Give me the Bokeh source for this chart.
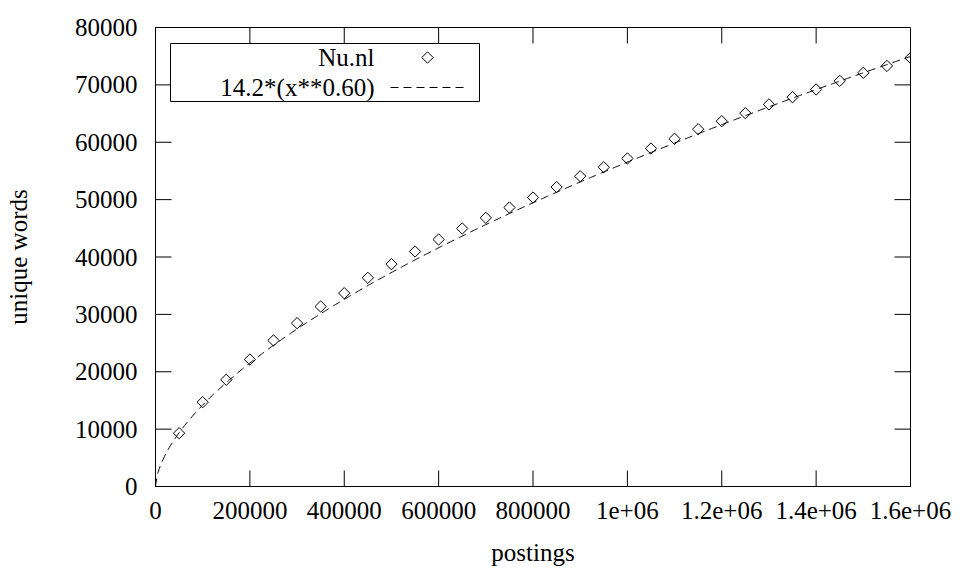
import math
import numpy as np
from bokeh.plotting import figure
from bokeh.models import (FixedTicker, Range1d, Label, BoxAnnotation,
                          PolyAnnotation, Arrow, ColumnDataSource)
from bokeh.embed import file_html
from bokeh.resources import INLINE

# ---------------- data ----------------
series_name = "Nu.nl"
postings = [50000, 100000, 150000, 200000, 250000, 300000, 350000, 400000,
            450000, 500000, 550000, 600000, 650000, 700000, 750000, 800000,
            850000, 900000, 950000, 1000000, 1050000, 1100000, 1150000, 1200000,
            1250000, 1300000, 1350000, 1400000, 1450000, 1500000, 1550000, 1600000]
unique_words = [9290, 14700, 18600, 22130, 25450, 28470, 31370, 33700,
                36370, 38750, 40960, 43050, 44970, 46830, 48630, 50370,
                52200, 54080, 55650, 57170, 58910, 60600, 62280, 63670,
                65070, 66600, 67850, 69200, 70700, 72100, 73300, 74700]
fit_a = 14.2
fit_b = 0.60
fit_label = "14.2*(x**0.60)"

x_ticks = [0, 200000, 400000, 600000, 800000, 1000000, 1200000, 1400000, 1600000]
x_tick_labels = ["0", "200000", "400000", "600000", "800000", "1e+06",
                 "1.2e+06", "1.4e+06", "1.6e+06"]
y_ticks = [0, 10000, 20000, 30000, 40000, 50000, 60000, 70000, 80000]
y_tick_labels = ["0", "10000", "20000", "30000", "40000", "50000", "60000",
                 "70000", "80000"]
x_label = "postings"
y_label = "unique words"
x_min, x_max = 0, 1600000
y_min, y_max = 0, 80000

# ---------------- layout / style ----------------
FONT = "Liberation Serif"
FS = "25px"
TICK_LEN = 16
W, H = 960, 568
BL, BR, BT, BB = 155, 50, 27, 82
FRAME_W = W - BL - BR
FRAME_H = H - BT - BB

p = figure(width=W, height=H, output_backend="svg", toolbar_location=None,
           x_range=Range1d(x_min, x_max), y_range=Range1d(y_min, y_max),
           min_border_left=BL, min_border_right=BR, min_border_top=BT,
           min_border_bottom=BB, x_axis_label=x_label, y_axis_label=y_label)
p.grid.visible = False
p.outline_line_color = "black"
p.outline_line_width = 1
p.background_fill_color = "white"
p.border_fill_color = "white"


def style_axis(ax, ticks, labels):
    ax.ticker = FixedTicker(ticks=ticks)
    ax.major_label_overrides = {t: l for t, l in zip(ticks, labels)}
    ax.major_tick_in = 0
    ax.major_tick_out = 0
    ax.minor_tick_line_color = None
    ax.axis_line_color = "black"
    ax.major_label_text_font = FONT
    ax.major_label_text_color = "black"
    ax.major_label_text_font_size = FS
    ax.axis_label_text_font = FONT
    ax.axis_label_text_font_size = FS
    ax.axis_label_text_font_style = "normal"
    ax.axis_label_text_color = "black"


style_axis(p.xaxis[0], x_ticks, x_tick_labels)
p.xaxis[0].major_label_standoff = 15
p.xaxis[0].axis_label_standoff = 17
style_axis(p.yaxis[0], y_ticks, y_tick_labels)
p.yaxis[0].major_label_standoff = 18
p.yaxis[0].axis_label_standoff = 40

# inward, mirrored ticks (gnuplot style) as unclipped screen-space annotations;
# tick positions are mapped from the tick lists onto the plot frame
def sx(v):
    return (v - x_min) / (x_max - x_min) * FRAME_W


def sy(v):
    return (v - y_min) / (y_max - y_min) * FRAME_H


x0s, y0s, x1s, y1s = [], [], [], []
for t in y_ticks:
    x0s += [0, FRAME_W]
    x1s += [TICK_LEN, FRAME_W - TICK_LEN]
    y0s += [sy(t), sy(t)]
    y1s += [sy(t), sy(t)]
for t in x_ticks:
    x0s += [sx(t), sx(t)]
    x1s += [sx(t), sx(t)]
    y0s += [0, FRAME_H]
    y1s += [TICK_LEN, FRAME_H - TICK_LEN]
tick_src = ColumnDataSource(dict(x0=x0s, y0=y0s, x1=x1s, y1=y1s))
p.add_layout(Arrow(end=None, source=tick_src, x_start="x0", y_start="y0",
                   x_end="x1", y_end="y1", start_units="screen", end_units="screen",
                   line_color="black", line_width=1))

# ---------------- glyphs ----------------
x_fit = np.linspace(x_min, x_max, 600)
y_fit = fit_a * x_fit ** fit_b
p.line(x_fit, y_fit, line_color="black", line_width=1, line_dash="8 5")
p.scatter(postings, unique_words, marker="square", angle=math.pi / 4, size=8,
          fill_color=None, line_color="black", line_width=1)

# ---------------- legend (gnuplot style: text then sample) ----------------
lg_left, lg_right, lg_top, lg_bottom = 15, 324, 443, 385
p.add_layout(BoxAnnotation(left=lg_left, right=lg_right, top=lg_top, bottom=lg_bottom,
                           left_units="screen", right_units="screen",
                           top_units="screen", bottom_units="screen",
                           fill_color="white", fill_alpha=1.0,
                           line_color="black", line_width=1, line_alpha=1.0))
row1_y, row2_y = 429, 399
text_right = 219
sample_x = 272
p.add_layout(Label(x=text_right, y=row1_y, x_units="screen", y_units="screen",
                   text=series_name, text_align="right", text_baseline="middle",
                   text_font=FONT, text_font_size=FS, text_color="black"))
p.add_layout(Label(x=text_right, y=row2_y, x_units="screen", y_units="screen",
                   text=fit_label, text_align="right", text_baseline="middle",
                   text_font=FONT, text_font_size=FS, text_color="black"))
d = 5.7
p.add_layout(PolyAnnotation(xs=[sample_x - d, sample_x, sample_x + d, sample_x],
                            ys=[row1_y, row1_y + d, row1_y, row1_y - d],
                            xs_units="screen", ys_units="screen",
                            fill_color=None, fill_alpha=0, line_color="black",
                            line_width=1, line_alpha=1.0))
p.add_layout(Arrow(end=None, x_start=235, y_start=row2_y, x_end=310, y_end=row2_y,
                   start_units="screen", end_units="screen",
                   line_color="black", line_width=1, line_dash="8 5"))

open("out.html", "w").write(file_html(p, INLINE))
